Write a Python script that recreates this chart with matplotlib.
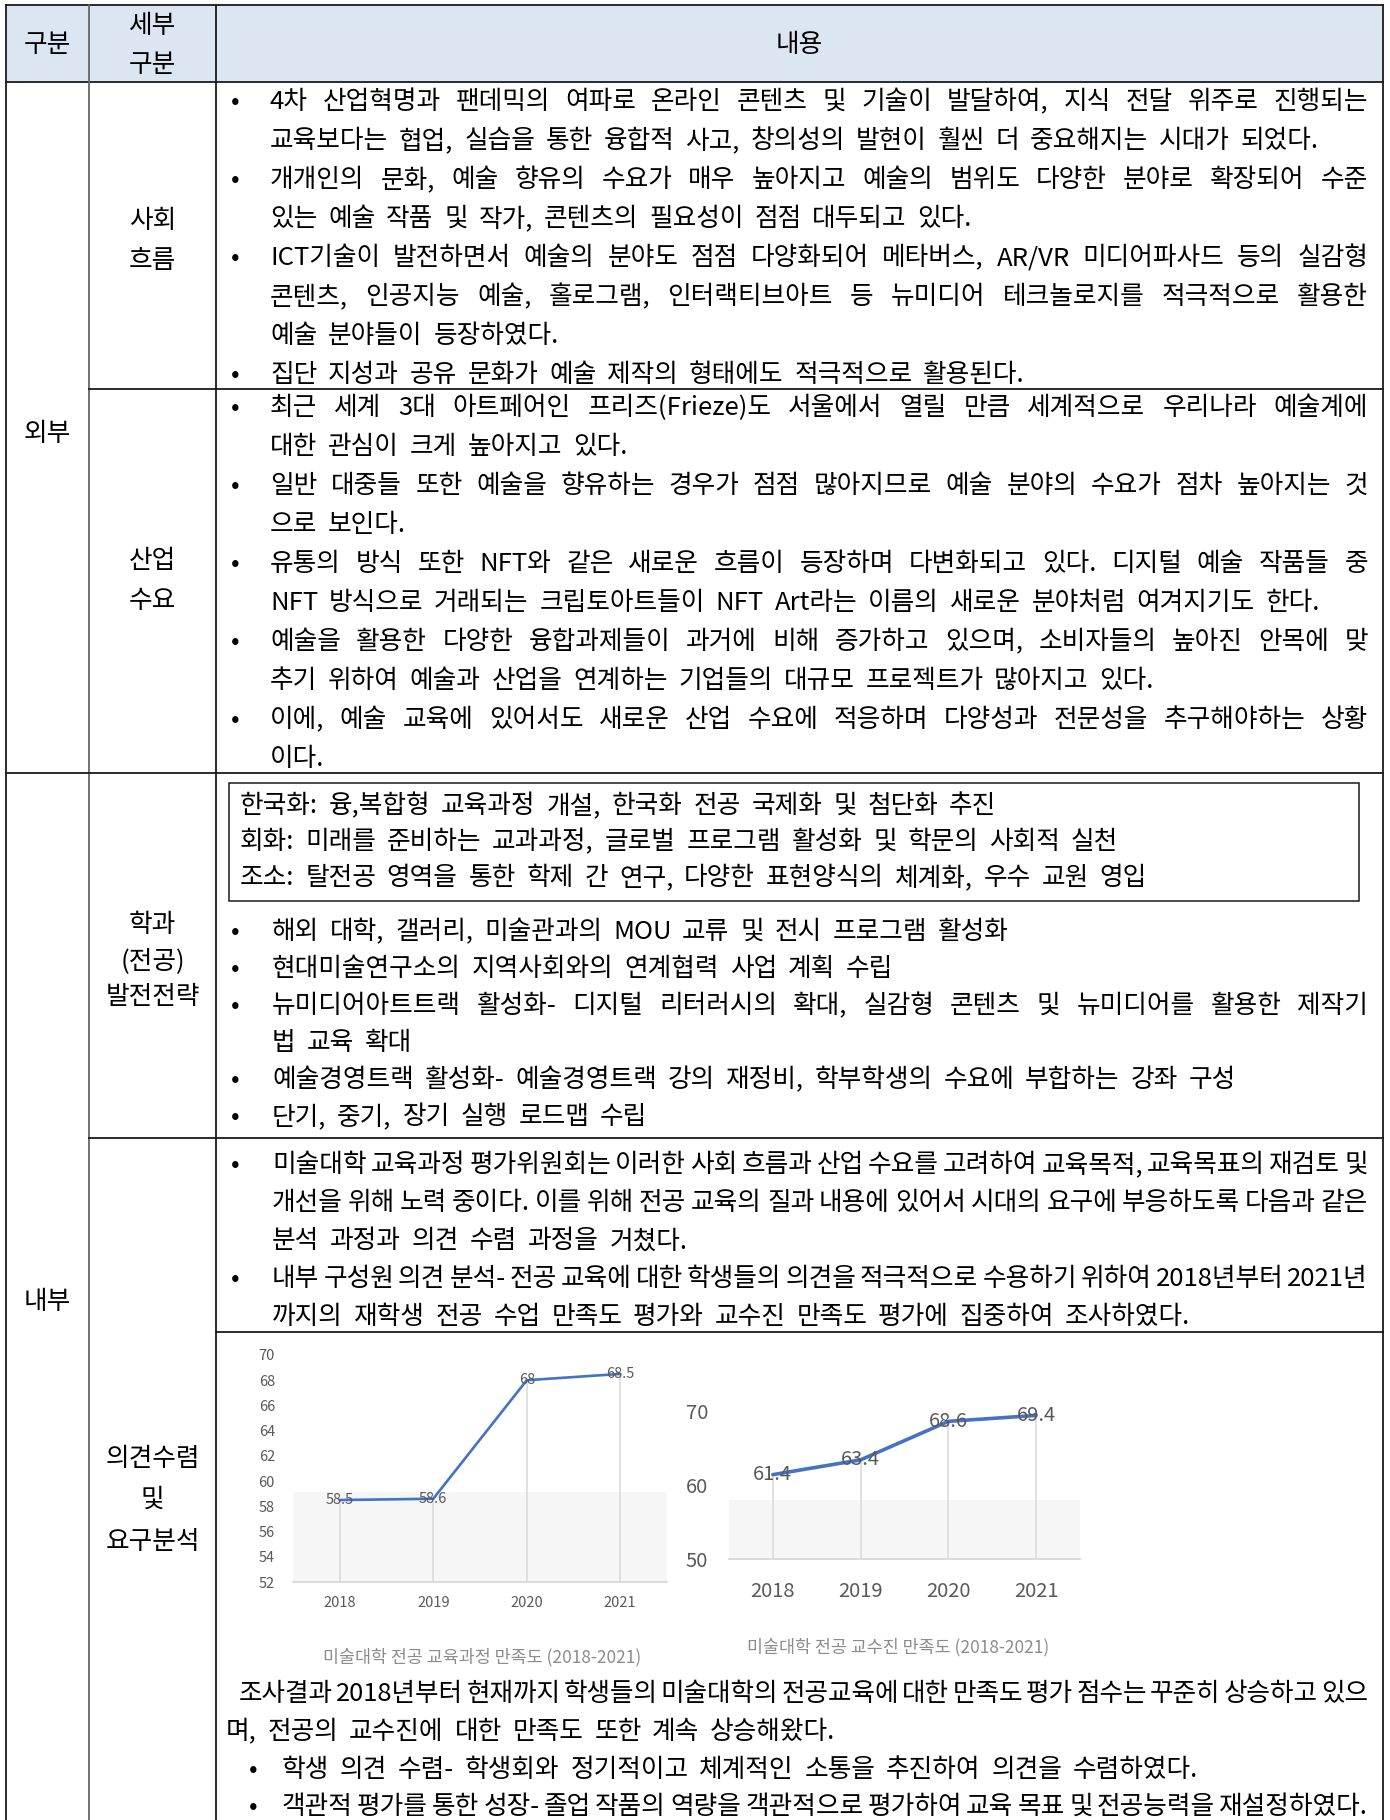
import matplotlib
matplotlib.use('Agg')
import matplotlib.pyplot as plt
from matplotlib.patches import Rectangle

plt.rcParams['font.family'] = ['Noto Sans CJK KR', 'DejaVu Sans']

# ---- chart data ----
years = ['2018', '2019', '2020', '2021']
curriculum = [58.5, 58.6, 68, 68.5]
faculty = [61.4, 63.4, 68.6, 69.4]
curriculum_ticks = [52, 54, 56, 58, 60, 62, 64, 66, 68, 70]
faculty_ticks = [50, 60, 70]
curriculum_title = '미술대학 전공 교육과정 만족도 (2018-2021)'
faculty_title = '미술대학 전공 교수진 만족도 (2018-2021)'

# ---- table text ----
head_col1 = ['구분']
head_col2 = ['세부', '구분']
head_col3 = ['내용']
group_out = ['외부']
group_in = ['내부']
label_social = ['사회', '흐름']
label_industry = ['산업', '수요']
label_major = ['학과', '(전공)', '발전전략']
label_opinion = ['의견수렴', '및', '요구분석']

social = [
    ['4차 산업혁명과 팬데믹의 여파로 온라인 콘텐츠 및 기술이 발달하여, 지식 전달 위주로 진행되는',
     '교육보다는 협업, 실습을 통한 융합적 사고, 창의성의 발현이 훨씬 더 중요해지는 시대가 되었다.'],
    ['개개인의 문화, 예술 향유의 수요가 매우 높아지고 예술의 범위도 다양한 분야로 확장되어 수준',
     '있는 예술 작품 및 작가, 콘텐츠의 필요성이 점점 대두되고 있다.'],
    ['ICT기술이 발전하면서 예술의 분야도 점점 다양화되어 메타버스, AR/VR 미디어파사드 등의 실감형',
     '콘텐츠, 인공지능 예술, 홀로그램, 인터랙티브아트 등 뉴미디어 테크놀로지를 적극적으로 활용한',
     '예술 분야들이 등장하였다.'],
    ['집단 지성과 공유 문화가 예술 제작의 형태에도 적극적으로 활용된다.'],
]

industry = [
    ['최근 세계 3대 아트페어인 프리즈(Frieze)도 서울에서 열릴 만큼 세계적으로 우리나라 예술계에',
     '대한 관심이 크게 높아지고 있다.'],
    ['일반 대중들 또한 예술을 향유하는 경우가 점점 많아지므로 예술 분야의 수요가 점차 높아지는 것',
     '으로 보인다.'],
    ['유통의 방식 또한 NFT와 같은 새로운 흐름이 등장하며 다변화되고 있다. 디지털 예술 작품들 중',
     'NFT 방식으로 거래되는 크립토아트들이 NFT Art라는 이름의 새로운 분야처럼 여겨지기도 한다.'],
    ['예술을 활용한 다양한 융합과제들이 과거에 비해 증가하고 있으며, 소비자들의 높아진 안목에 맞',
     '추기 위하여 예술과 산업을 연계하는 기업들의 대규모 프로젝트가 많아지고 있다.'],
    ['이에, 예술 교육에 있어서도 새로운 산업 수요에 적응하며 다양성과 전문성을 추구해야하는 상황',
     '이다.'],
]

major_box = [
    '한국화: 융,복합형 교육과정 개설, 한국화 전공 국제화 및 첨단화 추진',
    '회화: 미래를 준비하는 교과과정, 글로벌 프로그램 활성화 및 학문의 사회적 실천',
    '조소: 탈전공 영역을 통한 학제 간 연구, 다양한 표현양식의 체계화, 우수 교원 영입',
]

major = [
    ['해외 대학, 갤러리, 미술관과의 MOU 교류 및 전시 프로그램 활성화'],
    ['현대미술연구소의 지역사회와의 연계협력 사업 계획 수립'],
    ['뉴미디어아트트랙 활성화- 디지털 리터러시의 확대, 실감형 콘텐츠 및 뉴미디어를 활용한 제작기',
     '법 교육 확대'],
    ['예술경영트랙 활성화- 예술경영트랙 강의 재정비, 학부학생의 수요에 부합하는 강좌 구성'],
    ['단기, 중기, 장기 실행 로드맵 수립'],
]

opinion = [
    ['미술대학 교육과정 평가위원회는 이러한 사회 흐름과 산업 수요를 고려하여 교육목적, 교육목표의 재검토 및',
     '개선을 위해 노력 중이다. 이를 위해 전공 교육의 질과 내용에 있어서 시대의 요구에 부응하도록 다음과 같은',
     '분석 과정과 의견 수렴 과정을 거쳤다.'],
    ['내부 구성원 의견 분석- 전공 교육에 대한 학생들의 의견을 적극적으로 수용하기 위하여 2018년부터 2021년',
     '까지의 재학생 전공 수업 만족도 평가와 교수진 만족도 평가에 집중하여 조사하였다.'],
]

result = ['조사결과 2018년부터 현재까지 학생들의 미술대학의 전공교육에 대한 만족도 평가 점수는 꾸준히 상승하고 있으',
          '며, 전공의 교수진에 대한 만족도 또한 계속 상승해왔다.']
result_bullets = [
    ['학생 의견 수렴- 학생회와 정기적이고 체계적인 소통을 추진하여 의견을 수렴하였다.'],
    ['객관적 평가를 통한 성장- 졸업 작품의 역량을 객관적으로 평가하여 교육 목표 및 전공능력을 재설정하였다.'],
]

W, H = 1390, 1820
FS = 18.5
PX = FS * 100 / 72
fig = plt.figure(figsize=(W / 100, H / 100), dpi=100)
ax = fig.add_axes([0, 0, 1, 1])
ax.set_xlim(0, W)
ax.set_ylim(H, 0)
ax.axis('off')
renderer = fig.canvas.get_renderer()


def base(y, size=FS):
    # y is the visual centre of the hangul glyphs
    return y + 0.36 * size * 100 / 72


def line(y, x0, x1, s, justify, gap_em=0.42):
    words = s.split(' ')
    objs = [ax.text(0, base(y), w, fontsize=FS, ha='left', va='baseline') for w in words]
    widths = [o.get_window_extent(renderer).width for o in objs]
    n = len(words)
    if n == 1:
        objs[0].set_x(x0)
        return
    room = x1 - x0 - sum(widths)
    gap = room / (n - 1) if justify else min(gap_em * PX, room / (n - 1))
    if gap < 0.12 * PX:
        k = (x1 - x0 - 0.12 * PX * (n - 1)) / sum(widths)
        for o in objs:
            o.set_fontsize(FS * k)
        widths = [o.get_window_extent(renderer).width for o in objs]
        gap = (x1 - x0 - sum(widths)) / (n - 1)
    x = x0
    for o, w in zip(objs, widths):
        o.set_x(x)
        x += w + gap


def paragraphs(paras, ys, x_text, x_right=1368, bullet_x=235):
    i = 0
    for p in paras:
        ax.text(bullet_x, base(ys[i]), '•', fontsize=FS, ha='center', va='baseline')
        for j, s in enumerate(p):
            line(ys[i], x_text, x_right, s, j < len(p) - 1)
            i += 1


def stack(labels, x, ys):
    for s, y in zip(labels, ys):
        ax.text(x, base(y), s, fontsize=FS, ha='center', va='baseline')


def steps(start, step, n):
    return [start + k * step for k in range(n)]


# ---- table frame ----
L, R, TOP = 6, 1383, 5
C1, C2 = 89, 216
ax.add_patch(Rectangle((L, TOP), R - L, 82 - TOP, facecolor='#dce6f2', edgecolor='none'))
lk = dict(color='#1a1a1a', lw=1.3)
ax.plot([L, R], [TOP, TOP], **lk)
ax.plot([L, R], [82, 82], **lk)
ax.plot([L, L], [TOP, H], **lk)
ax.plot([R, R], [TOP, H], **lk)
ax.plot([C1, C1], [TOP, H], color='#666666', lw=1.3)
ax.plot([C2, C2], [TOP, H], **lk)
ax.plot([C1, R], [389, 389], **lk)
ax.plot([L, R], [773, 773], **lk)
ax.plot([C1, R], [1138, 1138], **lk)
ax.plot([C2, R], [1332, 1332], **lk)
ax.add_patch(Rectangle((229, 783), 1359 - 229, 901 - 783, facecolor='none',
                       edgecolor='#1a1a1a', lw=1.1))

# ---- header & row labels ----
xc1, xc2, xc3 = (L + C1) / 2, (C1 + C2) / 2, (C2 + R) / 2
stack(head_col1, xc1, [43])
stack(head_col2, xc2, [24, 63])
stack(head_col3, xc3, [43])
stack(group_out, xc1, [432])
stack(group_in, xc1, [1300])
stack(label_social, xc2, [219, 259])
stack(label_industry, xc2, [559, 599])
stack(label_major, xc2, [923, 959, 995])
stack(label_opinion, xc2, [1457, 1498, 1540])

# ---- body text ----
paragraphs(social, steps(100, 39, 8), 270)
paragraphs(industry, steps(406, 39, 10), 270)
for s, y in zip(major_box, steps(804, 36, 3)):
    line(y, 240, 1350, s, False)
paragraphs(major, steps(930, 37, 6), 272)
paragraphs(opinion, steps(1163, 38, 5), 272)
line(1692, 239, 1368, result[0], True)
line(1730, 226, 1368, result[1], False)
paragraphs(result_bullets, steps(1768, 37, 2), 282, bullet_x=253)

# ---- charts ----
blue = '#4472C4'
grey = '#595959'
x = list(range(len(years)))


def chart(rect, vals, ticks, band_top, lw, fs, ypad, xpad):
    a = fig.add_axes([rect[0] / W, 1 - rect[3] / H, (rect[2] - rect[0]) / W, (rect[3] - rect[1]) / H])
    a.set_facecolor('none')
    a.axhspan(ticks[0], band_top, color='#f6f6f6', lw=0, zorder=0)
    a.vlines(x, ticks[0], vals, color='#d9d9d9', lw=1.1, zorder=1)
    a.plot(x, vals, color=blue, lw=lw, zorder=3, solid_capstyle='round')
    for xi, v in zip(x, vals):
        a.text(xi, v, f'{v:g}', ha='center', va='center', color=grey, fontsize=fs, zorder=4)
    a.set_xlim(-0.5, 3.5)
    a.set_ylim(ticks[0], ticks[-1])
    a.set_yticks(ticks)
    a.set_xticks(x, years)
    a.tick_params(axis='both', length=0, colors=grey, labelsize=fs)
    a.tick_params(axis='y', pad=ypad)
    a.tick_params(axis='x', pad=xpad)
    for sp in ['top', 'left', 'right']:
        a.spines[sp].set_visible(False)
    a.spines['bottom'].set_color('#d9d9d9')
    a.spines['bottom'].set_linewidth(1.3)
    return a


chart((293, 1355, 667, 1582), curriculum, curriculum_ticks, 59.1, 1.9, 10.5, 13, 10)
chart((729, 1411, 1080, 1559), faculty, faculty_ticks, 58, 2.6, 14.5, 15, 16)
ax.text(482, 1657, curriculum_title, fontsize=12.5, color='#8c8c8c', ha='center', va='center')
ax.text(898, 1647, faculty_title, fontsize=12.5, color='#8c8c8c', ha='center', va='center')

fig.savefig('out.png', dpi=100)
